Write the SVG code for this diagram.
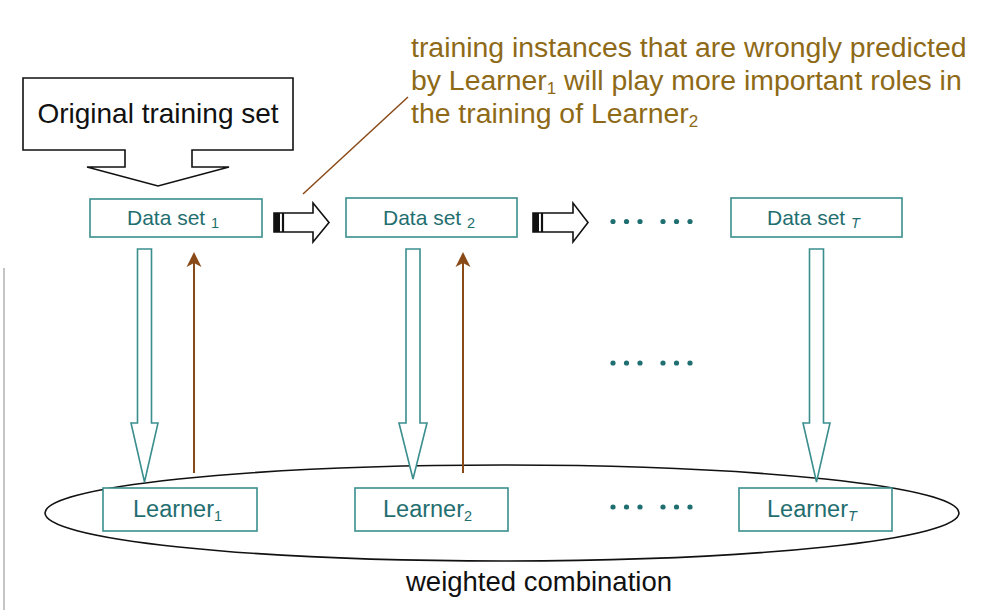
<svg xmlns="http://www.w3.org/2000/svg" width="994" height="614" viewBox="0 0 994 614">
<defs>
<style>
.box{fill:#fff;stroke:#3a8e8e;stroke-width:1.6}
.lbl{font-family:"Liberation Sans",Arial,sans-serif;fill:#1f6e70}
.ds{font-size:21px}
.ln{font-size:23.5px}
.sub{font-size:14.5px}
.hv{fill:#fff;stroke:#3a8e8e;stroke-width:1.6;stroke-linejoin:miter}
.brown{stroke:#8a4a17;stroke-width:2;fill:none}
.bhead{fill:#8a4a17}
.blk{fill:#fff;stroke:#111;stroke-width:1.6}
.dot{fill:#1f6e70}
.note{font-family:"Liberation Sans",Arial,sans-serif;font-size:28.4px;fill:#8e6a18}
</style>
<g id="dots">
<circle class="dot" cx="0" cy="0" r="2.6"/><circle class="dot" cx="13.5" cy="0" r="2.6"/><circle class="dot" cx="27" cy="0" r="2.6"/>
<circle class="dot" cx="50" cy="0" r="2.6"/><circle class="dot" cx="63.5" cy="0" r="2.6"/><circle class="dot" cx="77" cy="0" r="2.6"/>
</g>
</defs>
<rect width="994" height="614" fill="#fff"/>
<line x1="4" y1="268" x2="4" y2="610" stroke="#c4c4c4" stroke-width="2"/>

<g id="original-training-set">
<path class="blk" d="M23,78 L293,78 L293,150 L192,150 L192,167 L229,167 L158,186 L87,167 L125,167 L125,150 L23,150 Z"/>
<text x="158" y="123" text-anchor="middle" font-family="'Liberation Sans',Arial,sans-serif" font-size="28" fill="#111">Original training set</text>
</g>

<g id="combination">
<ellipse cx="502" cy="513" rx="457" ry="48" fill="none" stroke="#111" stroke-width="1.6"/>
<text x="539" y="591" text-anchor="middle" font-family="'Liberation Sans',Arial,sans-serif" font-size="27.5" fill="#111">weighted combination</text>
</g>

<g id="connectors">
<path class="blk" d="M274,213 L313,213 L313,203 L329,222.5 L313,242 L313,232 L274,232 Z"/>
<rect x="274" y="213" width="6" height="19" fill="#111"/>
<line x1="283" y1="213" x2="283" y2="232" stroke="#111" stroke-width="2.2"/>
<path class="blk" d="M533,213 L573,213 L573,203 L588,222.5 L573,242 L573,232 L533,232 Z"/>
<rect x="533" y="213" width="6" height="19" fill="#111"/>
<line x1="542" y1="213" x2="542" y2="232" stroke="#111" stroke-width="2.2"/>
<path class="hv" d="M137.5,249 L151.5,249 L151.5,423 L158,423 L144.5,482 L131,423 L137.5,423 Z"/>
<path class="hv" d="M406,249 L420,249 L420,423 L427,423 L413,479 L399,423 L406,423 Z"/>
<path class="hv" d="M809.5,249 L823.5,249 L823.5,423 L830,423 L816.5,482 L803,423 L809.5,423 Z"/>
<line class="brown" x1="194" y1="473" x2="194" y2="262"/>
<path class="bhead" d="M194,252 L201.5,267 L194,263 L186.5,267 Z"/>
<line class="brown" x1="463" y1="473" x2="463" y2="262"/>
<path class="bhead" d="M463,252 L470.5,267 L463,263 L455.5,267 Z"/>
<line x1="303" y1="194" x2="408" y2="97" stroke="#8a4a17" stroke-width="1.5"/>
</g>

<g id="dataset1">
<rect class="box" x="90" y="199" width="172" height="38"/>
<text class="lbl ds" x="127" y="225">Data set <tspan class="sub" dy="3">1</tspan></text>
</g>
<g id="dataset2">
<rect class="box" x="346" y="198" width="171" height="39"/>
<text class="lbl ds" x="383" y="225">Data set <tspan class="sub" dy="3">2</tspan></text>
</g>
<g id="datasetT">
<rect class="box" x="731" y="198" width="171" height="39"/>
<text class="lbl ds" x="767" y="225">Data set <tspan class="sub" dy="3" font-style="italic">T</tspan></text>
</g>

<g id="learner1">
<rect class="box" x="103" y="488" width="154" height="43"/>
<text class="lbl ln" x="133" y="517">Learner<tspan class="sub" font-size="15" dy="4">1</tspan></text>
</g>
<g id="learner2">
<rect class="box" x="355" y="488" width="153" height="43"/>
<text class="lbl ln" x="383" y="517">Learner<tspan class="sub" font-size="15" dy="4">2</tspan></text>
</g>
<g id="learnerT">
<rect class="box" x="739" y="488" width="153" height="43"/>
<text class="lbl ln" x="767" y="517">Learner<tspan class="sub" font-size="15" dy="4" font-style="italic">T</tspan></text>
</g>

<g id="ellipsis-dots">
<use href="#dots" x="613" y="221.5"/>
<use href="#dots" x="613" y="363"/>
<use href="#dots" x="613" y="507"/>
</g>

<g id="annotation">
<text class="note" x="411" y="57">training instances that are wrongly predicted</text>
<text class="note" x="411" y="90">by Learner<tspan font-size="17" dy="3.5">1</tspan><tspan dy="-3.5"> will play more important roles in</tspan></text>
<text class="note" x="411" y="123">the training of Learner<tspan font-size="17" dy="3.5">2</tspan></text>
</g>
</svg>
